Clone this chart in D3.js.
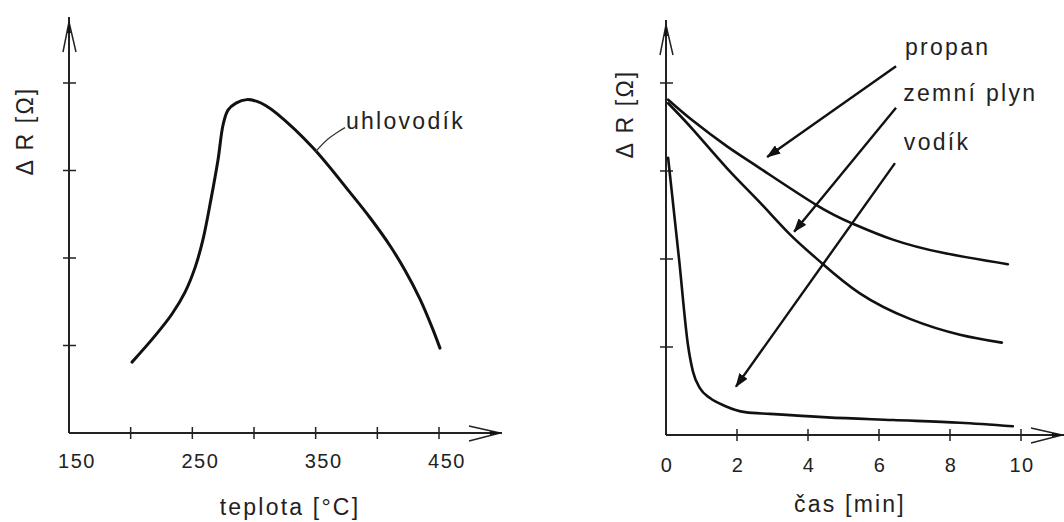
<!DOCTYPE html>
<html>
<head>
<meta charset="utf-8">
<script src="https://cdn.jsdelivr.net/npm/d3@7"></script>
<style>
  body { margin: 0; background: #fff; }
  svg { display: block; }
  text { font-family: "Liberation Sans", Arial, sans-serif; fill: #222; }
</style>
</head>
<body>
<svg id="chart" width="1064" height="522"></svg>
<script>
// left chart: resistance change vs temperature
var tempX = [201.1, 219.7, 233.5, 244.1, 252.2, 258.6, 265.1, 270.8, 274.9, 278.9, 285.4, 294.3, 302.4, 309.7, 318.6, 347.8, 377.8, 394.1, 410.3, 422.4, 434.6, 444.3, 450.8];
var tempR = [0.81, 1.11, 1.36, 1.61, 1.89, 2.21, 2.67, 3.12, 3.52, 3.69, 3.77, 3.81, 3.79, 3.74, 3.65, 3.26, 2.75, 2.46, 2.14, 1.86, 1.53, 1.21, 0.97];
var tempTicks = [200, 250, 300, 350, 400, 450];
var tempLabels = [150, 250, 350, 450];

// right chart: resistance change vs time
var propanT = [0.06, 0.76, 1.72, 2.65, 4.25, 5.27, 6.39, 7.8, 9.63];
var propanR = [3.81, 3.57, 3.28, 3.03, 2.61, 2.40, 2.22, 2.07, 1.94];
var plynT = [0.06, 0.76, 1.72, 2.65, 3.49, 4.34, 5.46, 6.87, 8.28, 9.46];
var plynR = [3.77, 3.47, 3.03, 2.64, 2.28, 1.97, 1.61, 1.32, 1.14, 1.05];
var vodikT = [0.06, 0.37, 0.62, 0.76, 0.96, 1.24, 1.66, 2.23, 2.93, 4.54, 6.39, 8.28, 9.77];
var vodikR = [3.15, 1.99, 1.02, 0.72, 0.53, 0.42, 0.33, 0.26, 0.24, 0.2, 0.17, 0.14, 0.1];
var timeTicks = [2, 4, 6, 8, 10];
var timeLabels = [0, 2, 4, 6, 8, 10];
var rTicks = [1, 2, 3, 4];

// annotations (data units)
var gasNames = ["propan", "zemní plyn", "vodík"];
var gasLabelPos = [[6.73, 4.32], [6.68, 3.80], [6.70, 3.24]];
var arrowFrom = [[6.48, 4.19], [6.48, 3.72], [6.45, 3.09]];
var arrowTo = [[2.85, 3.16], [3.61, 2.31], [1.97, 0.55]];
var leader = [[349.5, 3.21], [360, 3.36], [368, 3.44], [373.8, 3.49]];

var svg = d3.select("#chart");

svg.append("defs").append("marker")
  .attr("id", "head")
  .attr("markerUnits", "userSpaceOnUse")
  .attr("viewBox", "0 0 14 10")
  .attr("refX", 13).attr("refY", 5)
  .attr("markerWidth", 14).attr("markerHeight", 10)
  .attr("orient", "auto")
  .append("path").attr("d", "M0,0 L14,5 L0,10 Z").attr("fill", "#111");

function drawAxes(x, y, xTicks, xLabels, labelDy, xEnd, yTop, xTitle, xTitleX, xTitleY, yTitleX, yTitleY) {
  var x0 = x.range()[0], y0 = y.range()[0];
  var g = svg.append("g");

  // axis lines
  g.append("line").attr("x1", x0).attr("x2", x0).attr("y1", y0).attr("y2", yTop)
    .attr("stroke", "#222").attr("stroke-width", 2);
  g.append("line").attr("x1", x0).attr("x2", xEnd).attr("y1", y0).attr("y2", y0)
    .attr("stroke", "#222").attr("stroke-width", 2);

  // arrow tips
  g.append("path")
    .attr("d", "M" + (x0 - 6) + "," + (yTop + 35) + " L" + x0 + "," + (yTop + 5) + " L" + (x0 + 7) + "," + (yTop + 35))
    .attr("fill", "none").attr("stroke", "#222").attr("stroke-width", 1.5);
  g.append("path")
    .attr("d", "M" + (x0 - 2) + "," + (yTop + 16) + " L" + x0 + "," + (yTop + 5) + " L" + (x0 + 2) + "," + (yTop + 16) + "Z")
    .attr("fill", "#111");
  g.append("path")
    .attr("d", "M" + (xEnd - 33) + "," + (y0 - 7) + " L" + (xEnd - 2) + "," + y0 + " L" + (xEnd - 33) + "," + (y0 + 8))
    .attr("fill", "none").attr("stroke", "#222").attr("stroke-width", 1.5);
  g.append("path")
    .attr("d", "M" + (xEnd - 12) + "," + (y0 - 2) + " L" + xEnd + "," + y0 + " L" + (xEnd - 12) + "," + (y0 + 2) + "Z")
    .attr("fill", "#111");

  // ticks
  g.selectAll(".xt").data(xTicks).enter().append("line")
    .attr("x1", function (d) { return x(d); }).attr("x2", function (d) { return x(d); })
    .attr("y1", y0 - 6).attr("y2", y0 + 6)
    .attr("stroke", "#222").attr("stroke-width", 1.5);
  g.selectAll(".yt").data(rTicks).enter().append("line")
    .attr("x1", x0 - 6).attr("x2", x0 + 7)
    .attr("y1", function (d) { return y(d); }).attr("y2", function (d) { return y(d); })
    .attr("stroke", "#222").attr("stroke-width", 1.5);

  g.selectAll(".xl").data(xLabels).enter().append("text")
    .attr("x", function (d) { return x(d) + labelDy[0]; })
    .attr("y", labelDy[1])
    .attr("text-anchor", "middle")
    .attr("font-size", 20)
    .attr("letter-spacing", 1.5)
    .text(function (d) { return d; });

  g.append("text")
    .attr("x", xTitleX).attr("y", xTitleY)
    .attr("text-anchor", "middle")
    .attr("font-size", 23).attr("letter-spacing", 2.2)
    .text(xTitle);

  g.append("text")
    .attr("transform", "translate(" + yTitleX + "," + yTitleY + ") rotate(-90)")
    .attr("text-anchor", "middle")
    .attr("font-size", 23).attr("letter-spacing", 2.2)
    .text("Δ R [Ω]");
}

// ---- left ----
var xL = d3.scaleLinear().domain([150, 450]).range([69, 439]);
var yL = d3.scaleLinear().domain([0, 4]).range([433, 83]);
drawAxes(xL, yL, tempTicks, tempLabels, [8, 468], 502, 17, "teplota [°C]", 290, 515, 33, 131);

var lineL = d3.line()
  .x(function (d) { return xL(d[0]); })
  .y(function (d) { return yL(d[1]); })
  .curve(d3.curveCatmullRom.alpha(0.5));

svg.append("path")
  .datum(d3.zip(tempX, tempR))
  .attr("d", lineL)
  .attr("fill", "none").attr("stroke", "#111").attr("stroke-width", 3)
  .attr("stroke-linecap", "round");

svg.append("path")
  .datum(leader)
  .attr("d", lineL)
  .attr("fill", "none").attr("stroke", "#333").attr("stroke-width", 1.2);

svg.append("text")
  .attr("x", xL(374.5)).attr("y", yL(3.47))
  .attr("font-size", 23).attr("letter-spacing", 2.3)
  .text("uhlovodík");

// ---- right ----
var xR = d3.scaleLinear().domain([0, 10]).range([666, 1021]);
var yR = d3.scaleLinear().domain([0, 4]).range([435, 83]);
drawAxes(xR, yR, timeTicks, timeLabels, [1, 472], 1064, 20, "čas [min]", 850, 512, 633, 114);

function lineR(curve) {
  return d3.line()
    .x(function (d) { return xR(d[0]); })
    .y(function (d) { return yR(d[1]); })
    .curve(curve);
}

[[propanT, propanR, d3.curveNatural], [plynT, plynR, d3.curveNatural], [vodikT, vodikR, d3.curveMonotoneX]].forEach(function (s) {
  svg.append("path")
    .datum(d3.zip(s[0], s[1]))
    .attr("d", lineR(s[2]))
    .attr("fill", "none").attr("stroke", "#111").attr("stroke-width", 2.6)
    .attr("stroke-linecap", "round");
});

gasNames.forEach(function (name, i) {
  svg.append("line")
    .attr("x1", xR(arrowFrom[i][0])).attr("y1", yR(arrowFrom[i][1]))
    .attr("x2", xR(arrowTo[i][0])).attr("y2", yR(arrowTo[i][1]))
    .attr("stroke", "#111").attr("stroke-width", 2.4)
    .attr("marker-end", "url(#head)");
  svg.append("text")
    .attr("x", xR(gasLabelPos[i][0])).attr("y", yR(gasLabelPos[i][1]))
    .attr("font-size", 23).attr("letter-spacing", 2.3)
    .text(name);
});
</script>
</body>
</html>
